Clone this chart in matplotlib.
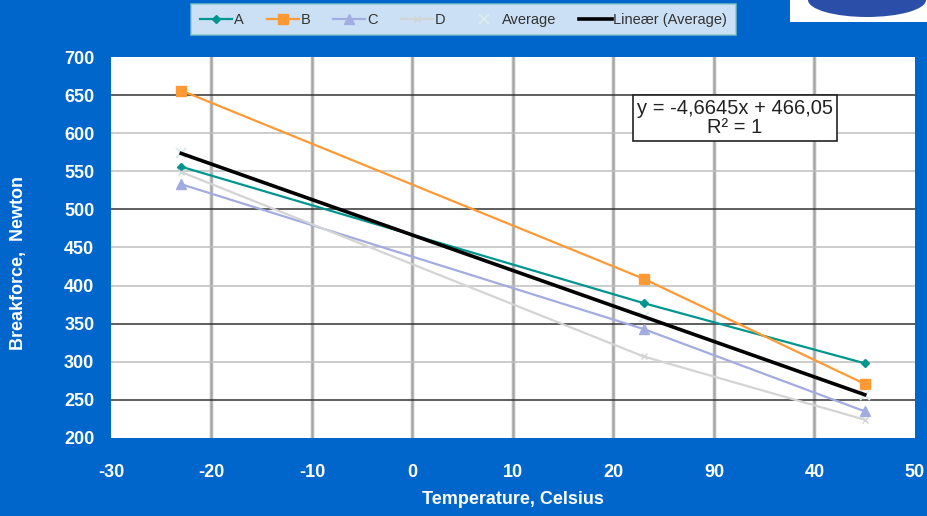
import numpy as np
import matplotlib.pyplot as plt
from matplotlib.patches import Rectangle, Ellipse

# Veriler
sicaklik = [-23, 23, 45]
seri_a = [556, 377, 298]
seri_b = [656, 409, 271]
seri_c = [533, 343, 235]
seri_d = [549, 307, 224]
ortalama = np.mean([seri_a, seri_b, seri_c, seri_d], axis=0)

x_ticks = [-30, -20, -10, 0, 10, 20, 30, 40, 50]
x_tick_labels = ["-30", "-20", "-10", "0", "10", "20", "90", "40", "50"]
y_ticks = [200, 250, 300, 350, 400, 450, 500, 550, 600, 650, 700]
koyu_cizgiler = [250, 350, 500, 650]

denklem = "y = -4,6645x + 466,05\nR² = 1"

mavi = "#0066CC"
plt.rcParams['font.family'] = ['Liberation Sans', 'DejaVu Sans']

fig = plt.figure(figsize=(9.27, 5.16), dpi=100, facecolor=mavi)
ax = fig.add_axes([0.1197, 0.1512, 0.8673, 0.7383])
ax.set_facecolor("white")

# Izgara
for xv in x_ticks[1:-1]:
    ax.axvline(xv, color="#EBEBEB", lw=3.5, zorder=0)
    ax.axvline(xv, color="#A6A6A6", lw=1.8, zorder=0)
for yv in y_ticks[1:-1]:
    if yv in koyu_cizgiler:
        ax.axhline(yv, color="#333333", lw=1.1, zorder=0)
    else:
        ax.axhline(yv, color="#BFBFBF", lw=1.1, zorder=0)

# Seriler
ax.plot(sicaklik, seri_a, color="#00968F", lw=1.6, marker="D", ms=4.5, label="A")
ax.plot(sicaklik, seri_b, color="#FF9933", lw=1.6, marker="s", ms=7, label="B")
ax.plot(sicaklik, seri_c, color="#A3ACE0", lw=1.6, marker="^", ms=7, label="C")
ax.plot(sicaklik, seri_d, color="#D4D4D4", lw=1.6, marker="x", ms=5, label="D")
ax.plot(sicaklik, ortalama, ls="none", color="#D8ECEC", marker="x", ms=7, mew=1.5, label="Average")

# Lineer trend
egim, kesisim = np.polyfit(sicaklik, ortalama, 1)
xs = np.array([sicaklik[0], sicaklik[-1]])
ax.plot(xs, egim * xs + kesisim, color="black", lw=2.6, label="Lineær (Average)")

ax.text(0.776, 0.84, denklem, transform=ax.transAxes, ha="center", va="center",
        fontsize=14.5, color="#222222", linespacing=1.0,
        bbox=dict(boxstyle="square,pad=0.2", fc="white", ec="#222222", lw=1.2))

ax.set_xlim(-30, 50)
ax.set_ylim(200, 700)
ax.set_xticks(x_ticks)
ax.set_xticklabels(x_tick_labels)
ax.set_yticks(y_ticks)
for s in ax.spines.values():
    s.set_visible(False)
ax.tick_params(axis="x", length=0, pad=19, labelsize=13, labelcolor="white")
ax.tick_params(axis="y", length=0, pad=12, labelsize=13, labelcolor="white")
for lbl in ax.get_xticklabels() + ax.get_yticklabels():
    lbl.set_fontweight("bold")

ax.set_xlabel("Temperature, Celsius", color="white", fontsize=13, fontweight="bold", labelpad=7)
ax.set_ylabel("Breakforce,  Newton", color="white", fontsize=13, fontweight="bold")
ax.yaxis.set_label_coords(-0.105, 0.46)

leg = fig.legend(loc="center", bbox_to_anchor=(0.5, 0.962), ncol=6, fontsize=10.5,
                 frameon=True, fancybox=False, handlelength=2.2, handletextpad=0.1,
                 columnspacing=1.6, borderpad=0.6)
leg.get_frame().set_edgecolor("#7FC6C6")
leg.get_frame().set_linewidth(1.2)
for t in leg.get_texts():
    t.set_color("#333333")

# Logo kosesi
fig.patches.append(Rectangle((790 / 927, 1 - 22 / 516), 137 / 927, 22 / 516,
                             transform=fig.transFigure, fc="white", ec="none"))
fig.patches.append(Ellipse((867 / 927, 1 - 0 / 516), 118 / 927, 34 / 516,
                           transform=fig.transFigure, fc="#2B4FA8", ec="none"))

fig.savefig("out.png", dpi=100, facecolor=mavi)
